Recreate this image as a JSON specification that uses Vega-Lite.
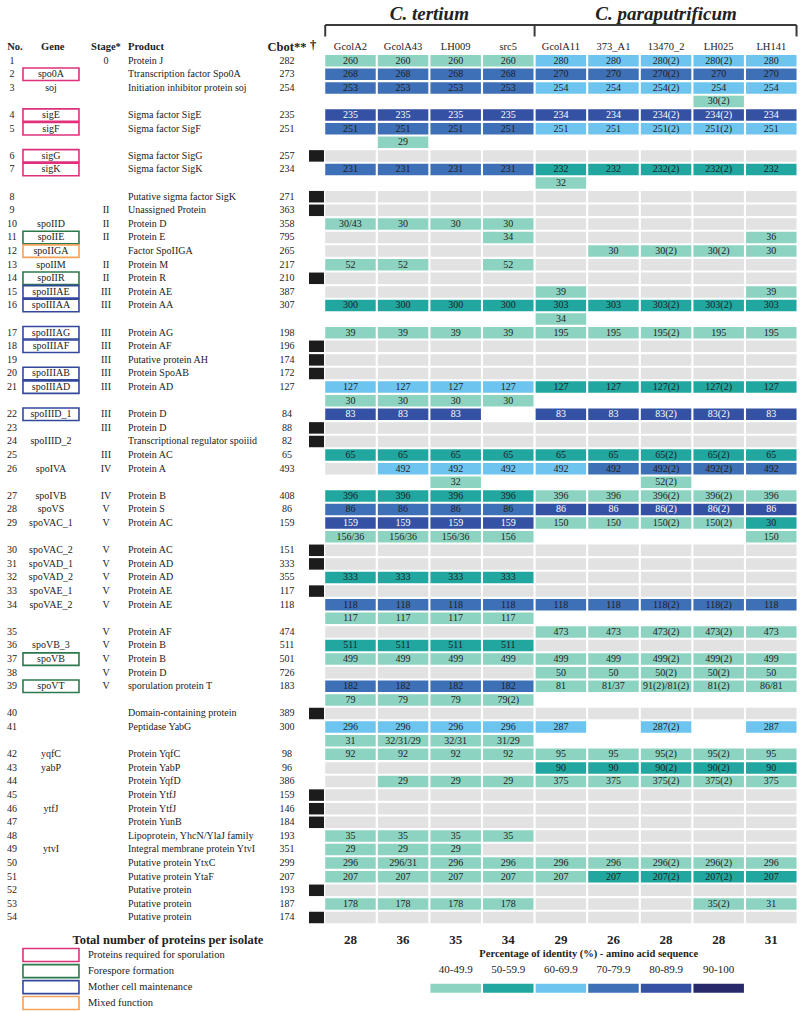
{
"$schema":"https://vega.github.io/schema/vega-lite/v6.json",
"width":800,"height":1011,"autosize":{"type":"none"},"padding":0,"background":"white",
"config":{"view":{"stroke":null},"axis":{"disable":true},"text":{"font":"Liberation Serif","fontSize":10,"color":"#222222","baseline":"middle"}},
"data":{"values":[{}]},
"datasets":{
"cells":[
{"l":1,"i":[1,2,3,4,5,6,7,8,9],"t":["260","260","260","260","280","280","280(2)","280(2)","280"],"c":["40-49.9","40-49.9","40-49.9","40-49.9","60-69.9","60-69.9","60-69.9","60-69.9","60-69.9"]},
{"l":2,"i":[1,2,3,4,5,6,7,8,9],"t":["268","268","268","268","270","270","270(2)","270","270"],"c":["70-79.9","70-79.9","70-79.9","70-79.9","70-79.9","70-79.9","70-79.9","70-79.9","70-79.9"]},
{"l":3,"i":[1,2,3,4,5,6,7,8,9],"t":["253","253","253","253","254","254","254(2)","254","254"],"c":["70-79.9","70-79.9","70-79.9","70-79.9","60-69.9","60-69.9","60-69.9","60-69.9","60-69.9"]},
{"l":4,"i":[1,2,3,4,5,6,7,8,9],"t":["","","","","","","","30(2)",""],"c":["","","","","","","","40-49.9",""]},
{"l":5,"i":[1,2,3,4,5,6,7,8,9],"t":["235","235","235","235","234","234","234(2)","234(2)","234"],"c":["80-89.9","80-89.9","80-89.9","80-89.9","80-89.9","80-89.9","80-89.9","80-89.9","80-89.9"]},
{"l":6,"i":[1,2,3,4,5,6,7,8,9],"t":["251","251","251","251","251","251","251(2)","251(2)","251"],"c":["70-79.9","70-79.9","70-79.9","70-79.9","60-69.9","60-69.9","60-69.9","60-69.9","60-69.9"]},
{"l":7,"i":[1,2,3,4,5,6,7,8,9],"t":["","29"],"c":["","40-49.9"]},
{"l":8,"i":[1,2,3,4,5,6,7,8,9],"t":[],"c":["absent","absent","absent","absent","absent","absent","absent","absent","absent"]},
{"l":9,"i":[1,2,3,4,5,6,7,8,9],"t":["231","231","231","231","232","232","232(2)","232(2)","232"],"c":["70-79.9","70-79.9","70-79.9","70-79.9","50-59.9","50-59.9","50-59.9","50-59.9","50-59.9"]},
{"l":10,"i":[1,2,3,4,5,6,7,8,9],"t":["","","","","32"],"c":["","","","","40-49.9"]},
{"l":11,"i":[1,2,3,4,5,6,7,8,9],"t":[],"c":["absent","absent","absent","absent","absent","absent","absent","absent","absent"]},
{"l":12,"i":[1,2,3,4,5,6,7,8,9],"t":[],"c":["absent","absent","absent","absent","absent","absent","absent","absent","absent"]},
{"l":13,"i":[1,2,3,4,5,6,7,8,9],"t":["30/43","30","30","30"],"c":["40-49.9","40-49.9","40-49.9","40-49.9","absent","absent","absent","absent","absent"]},
{"l":14,"i":[1,2,3,4,5,6,7,8,9],"t":["","","","34","","","","","36"],"c":["absent","absent","absent","40-49.9","absent","absent","absent","absent","40-49.9"]},
{"l":15,"i":[1,2,3,4,5,6,7,8,9],"t":["","","","","","30","30(2)","30(2)","30"],"c":["absent","absent","absent","absent","absent","40-49.9","40-49.9","40-49.9","40-49.9"]},
{"l":16,"i":[1,2,3,4,5,6,7,8,9],"t":["52","52","","52"],"c":["40-49.9","40-49.9","absent","40-49.9","absent","absent","absent","absent","absent"]},
{"l":17,"i":[1,2,3,4,5,6,7,8,9],"t":[],"c":["absent","absent","absent","absent","absent","absent","absent","absent","absent"]},
{"l":18,"i":[1,2,3,4,5,6,7,8,9],"t":["","","","","39","","","","39"],"c":["absent","absent","absent","absent","40-49.9","absent","absent","absent","40-49.9"]},
{"l":19,"i":[1,2,3,4,5,6,7,8,9],"t":["300","300","300","300","303","303","303(2)","303(2)","303"],"c":["50-59.9","50-59.9","50-59.9","50-59.9","50-59.9","50-59.9","50-59.9","50-59.9","50-59.9"]},
{"l":20,"i":[1,2,3,4,5,6,7,8,9],"t":["","","","","34"],"c":["","","","","40-49.9"]},
{"l":21,"i":[1,2,3,4,5,6,7,8,9],"t":["39","39","39","39","195","195","195(2)","195","195"],"c":["40-49.9","40-49.9","40-49.9","40-49.9","40-49.9","40-49.9","40-49.9","40-49.9","40-49.9"]},
{"l":22,"i":[1,2,3,4,5,6,7,8,9],"t":[],"c":["absent","absent","absent","absent","absent","absent","absent","absent","absent"]},
{"l":23,"i":[1,2,3,4,5,6,7,8,9],"t":[],"c":["absent","absent","absent","absent","absent","absent","absent","absent","absent"]},
{"l":24,"i":[1,2,3,4,5,6,7,8,9],"t":[],"c":["absent","absent","absent","absent","absent","absent","absent","absent","absent"]},
{"l":25,"i":[1,2,3,4,5,6,7,8,9],"t":["127","127","127","127","127","127","127(2)","127(2)","127"],"c":["60-69.9","60-69.9","60-69.9","60-69.9","50-59.9","50-59.9","50-59.9","50-59.9","50-59.9"]},
{"l":26,"i":[1,2,3,4,5,6,7,8,9],"t":["30","30","30","30"],"c":["40-49.9","40-49.9","40-49.9","40-49.9"]},
{"l":27,"i":[1,2,3,4,5,6,7,8,9],"t":["83","83","83","","83","83","83(2)","83(2)","83"],"c":["80-89.9","80-89.9","80-89.9","","80-89.9","80-89.9","80-89.9","80-89.9","80-89.9"]},
{"l":28,"i":[1,2,3,4,5,6,7,8,9],"t":[],"c":["absent","absent","absent","absent","absent","absent","absent","absent","absent"]},
{"l":29,"i":[1,2,3,4,5,6,7,8,9],"t":[],"c":["absent","absent","absent","absent","absent","absent","absent","absent","absent"]},
{"l":30,"i":[1,2,3,4,5,6,7,8,9],"t":["65","65","65","65","65","65","65(2)","65(2)","65"],"c":["50-59.9","50-59.9","50-59.9","50-59.9","50-59.9","50-59.9","50-59.9","50-59.9","50-59.9"]},
{"l":31,"i":[1,2,3,4,5,6,7,8,9],"t":["","492","492","492","492","492","492(2)","492(2)","492"],"c":["absent","60-69.9","60-69.9","60-69.9","60-69.9","70-79.9","70-79.9","70-79.9","70-79.9"]},
{"l":32,"i":[1,2,3,4,5,6,7,8,9],"t":["","","32","","","","52(2)","",""],"c":["","","40-49.9","","","","40-49.9","",""]},
{"l":33,"i":[1,2,3,4,5,6,7,8,9],"t":["396","396","396","396","396","396","396(2)","396(2)","396"],"c":["50-59.9","50-59.9","50-59.9","50-59.9","40-49.9","40-49.9","40-49.9","40-49.9","40-49.9"]},
{"l":34,"i":[1,2,3,4,5,6,7,8,9],"t":["86","86","86","86","86","86","86(2)","86(2)","86"],"c":["70-79.9","70-79.9","70-79.9","70-79.9","80-89.9","80-89.9","80-89.9","80-89.9","80-89.9"]},
{"l":35,"i":[1,2,3,4,5,6,7,8,9],"t":["159","159","159","159","150","150","150(2)","150(2)","30"],"c":["80-89.9","80-89.9","80-89.9","80-89.9","40-49.9","40-49.9","40-49.9","40-49.9","50-59.9"]},
{"l":36,"i":[1,2,3,4,5,6,7,8,9],"t":["156/36","156/36","156/36","156","","","","","150"],"c":["40-49.9","40-49.9","40-49.9","40-49.9","","","","","40-49.9"]},
{"l":37,"i":[1,2,3,4,5,6,7,8,9],"t":[],"c":["absent","absent","absent","absent","absent","absent","absent","absent","absent"]},
{"l":38,"i":[1,2,3,4,5,6,7,8,9],"t":[],"c":["absent","absent","absent","absent","absent","absent","absent","absent","absent"]},
{"l":39,"i":[1,2,3,4,5,6,7,8,9],"t":["333","333","333","333"],"c":["50-59.9","50-59.9","50-59.9","50-59.9","absent","absent","absent","absent","absent"]},
{"l":40,"i":[1,2,3,4,5,6,7,8,9],"t":[],"c":["absent","absent","absent","absent","absent","absent","absent","absent","absent"]},
{"l":41,"i":[1,2,3,4,5,6,7,8,9],"t":["118","118","118","118","118","118","118(2)","118(2)","118"],"c":["70-79.9","70-79.9","70-79.9","70-79.9","70-79.9","70-79.9","70-79.9","70-79.9","70-79.9"]},
{"l":42,"i":[1,2,3,4,5,6,7,8,9],"t":["117","117","117","117"],"c":["40-49.9","40-49.9","40-49.9","40-49.9"]},
{"l":43,"i":[1,2,3,4,5,6,7,8,9],"t":["","","","","473","473","473(2)","473(2)","473"],"c":["absent","absent","absent","absent","40-49.9","40-49.9","40-49.9","40-49.9","40-49.9"]},
{"l":44,"i":[1,2,3,4,5,6,7,8,9],"t":["511","511","511","511"],"c":["50-59.9","50-59.9","50-59.9","50-59.9","absent","absent","absent","absent","absent"]},
{"l":45,"i":[1,2,3,4,5,6,7,8,9],"t":["499","499","499","499","499","499","499(2)","499(2)","499"],"c":["40-49.9","40-49.9","40-49.9","40-49.9","40-49.9","40-49.9","40-49.9","40-49.9","40-49.9"]},
{"l":46,"i":[1,2,3,4,5,6,7,8,9],"t":["","","","","50","50","50(2)","50(2)","50"],"c":["absent","absent","absent","absent","40-49.9","40-49.9","40-49.9","40-49.9","40-49.9"]},
{"l":47,"i":[1,2,3,4,5,6,7,8,9],"t":["182","182","182","182","81","81/37","91(2)/81(2)","81(2)","86/81"],"c":["70-79.9","70-79.9","70-79.9","70-79.9","40-49.9","40-49.9","40-49.9","40-49.9","40-49.9"]},
{"l":48,"i":[1,2,3,4,5,6,7,8,9],"t":["79","79","79","79(2)"],"c":["40-49.9","40-49.9","40-49.9","40-49.9"]},
{"l":49,"i":[1,2,3,4,5,6,7,8,9],"t":[],"c":["absent","absent","absent","absent","absent","absent","absent","absent","absent"]},
{"l":50,"i":[1,2,3,4,5,6,7,8,9],"t":["296","296","296","296","287","","287(2)","","287"],"c":["60-69.9","60-69.9","60-69.9","60-69.9","60-69.9","","60-69.9","","60-69.9"]},
{"l":51,"i":[1,2,3,4,5,6,7,8,9],"t":["31","32/31/29","32/31","31/29"],"c":["40-49.9","40-49.9","40-49.9","40-49.9"]},
{"l":52,"i":[1,2,3,4,5,6,7,8,9],"t":["92","92","92","92","95","95","95(2)","95(2)","95"],"c":["40-49.9","40-49.9","40-49.9","40-49.9","40-49.9","40-49.9","40-49.9","40-49.9","40-49.9"]},
{"l":53,"i":[1,2,3,4,5,6,7,8,9],"t":["","","","","90","90","90(2)","90(2)","90"],"c":["absent","absent","absent","absent","50-59.9","50-59.9","50-59.9","50-59.9","50-59.9"]},
{"l":54,"i":[1,2,3,4,5,6,7,8,9],"t":["","29","29","29","375","375","375(2)","375(2)","375"],"c":["absent","40-49.9","40-49.9","40-49.9","40-49.9","40-49.9","40-49.9","40-49.9","40-49.9"]},
{"l":55,"i":[1,2,3,4,5,6,7,8,9],"t":[],"c":["absent","absent","absent","absent","absent","absent","absent","absent","absent"]},
{"l":56,"i":[1,2,3,4,5,6,7,8,9],"t":[],"c":["absent","absent","absent","absent","absent","absent","absent","absent","absent"]},
{"l":57,"i":[1,2,3,4,5,6,7,8,9],"t":[],"c":["absent","absent","absent","absent","absent","absent","absent","absent","absent"]},
{"l":58,"i":[1,2,3,4,5,6,7,8,9],"t":["35","35","35","35"],"c":["40-49.9","40-49.9","40-49.9","40-49.9","absent","absent","absent","absent","absent"]},
{"l":59,"i":[1,2,3,4,5,6,7,8,9],"t":["29","29","29"],"c":["40-49.9","40-49.9","40-49.9","absent","absent","absent","absent","absent","absent"]},
{"l":60,"i":[1,2,3,4,5,6,7,8,9],"t":["296","296/31","296","296","296","296","296(2)","296(2)","296"],"c":["40-49.9","40-49.9","40-49.9","40-49.9","40-49.9","40-49.9","40-49.9","40-49.9","40-49.9"]},
{"l":61,"i":[1,2,3,4,5,6,7,8,9],"t":["207","207","207","207","207","207","207(2)","207(2)","207"],"c":["40-49.9","40-49.9","40-49.9","40-49.9","40-49.9","50-59.9","50-59.9","50-59.9","50-59.9"]},
{"l":62,"i":[1,2,3,4,5,6,7,8,9],"t":[],"c":["absent","absent","absent","absent","absent","absent","absent","absent","absent"]},
{"l":63,"i":[1,2,3,4,5,6,7,8,9],"t":["178","178","178","178","","","","35(2)","31"],"c":["40-49.9","40-49.9","40-49.9","40-49.9","absent","absent","absent","40-49.9","40-49.9"]},
{"l":64,"i":[1,2,3,4,5,6,7,8,9],"t":[],"c":["absent","absent","absent","absent","absent","absent","absent","absent","absent"]}
],
"genes":[
{"l":1,"no":1,"stage":"0","product":"Protein J","cbot":282},
{"l":2,"no":2,"gene":"spo0A","product":"Ttranscription factor Spo0A","cbot":273,"box":"req"},
{"l":3,"no":3,"gene":"soj","product":"Initiation inhibitor protein soj","cbot":254},
{"l":5,"no":4,"gene":"sigE","product":"Sigma factor SigE","cbot":235,"box":"req"},
{"l":6,"no":5,"gene":"sigF","product":"Sigma factor SigF","cbot":251,"box":"req"},
{"l":8,"no":6,"gene":"sigG","product":"Sigma factor SigG","cbot":257,"box":"req","dag":true},
{"l":9,"no":7,"gene":"sigK","product":"Sigma factor SigK","cbot":234,"box":"req"},
{"l":11,"no":8,"product":"Putative sigma factor SigK","cbot":271,"dag":true},
{"l":12,"no":9,"stage":"II","product":"Unassigned Protein","cbot":363,"dag":true},
{"l":13,"no":10,"gene":"spoIID","stage":"II","product":"Protein D","cbot":358},
{"l":14,"no":11,"gene":"spoIIE","stage":"II","product":"Protein E","cbot":795,"box":"fore"},
{"l":15,"no":12,"gene":"spoIIGA","product":"Factor SpoIIGA","cbot":265,"box":"mixed"},
{"l":16,"no":13,"gene":"spoIIM","stage":"II","product":"Protein M","cbot":217},
{"l":17,"no":14,"gene":"spoIIR","stage":"II","product":"Protein R","cbot":210,"box":"fore","dag":true},
{"l":18,"no":15,"gene":"spoIIIAE","stage":"III","product":"Protein AE","cbot":387,"box":"mother"},
{"l":19,"no":16,"gene":"spoIIIAA","stage":"III","product":"Protein AA","cbot":307,"box":"mother"},
{"l":21,"no":17,"gene":"spoIIIAG","stage":"III","product":"Protein AG","cbot":198,"box":"mother"},
{"l":22,"no":18,"gene":"spoIIIAF","stage":"III","product":"Protein AF","cbot":196,"box":"mother","dag":true},
{"l":23,"no":19,"stage":"III","product":"Putative protein AH","cbot":174,"dag":true},
{"l":24,"no":20,"gene":"spoIIIAB","stage":"III","product":"Protein SpoAB","cbot":172,"box":"mother","dag":true},
{"l":25,"no":21,"gene":"spoIIIAD","stage":"III","product":"Protein AD","cbot":127,"box":"mother"},
{"l":27,"no":22,"gene":"spoIIID_1","stage":"III","product":"Protein D","cbot":84,"box":"mother"},
{"l":28,"no":23,"stage":"III","product":"Protein D","cbot":88,"dag":true},
{"l":29,"no":24,"gene":"spoIIID_2","product":"Transcriptional regulator spoiiid","cbot":82,"dag":true},
{"l":30,"no":25,"stage":"III","product":"Protein AC","cbot":65},
{"l":31,"no":26,"gene":"spoIVA","stage":"IV","product":"Protein A","cbot":493},
{"l":33,"no":27,"gene":"spoIVB","stage":"IV","product":"Protein B","cbot":408},
{"l":34,"no":28,"gene":"spoVS","stage":"V","product":"Protein S","cbot":86},
{"l":35,"no":29,"gene":"spoVAC_1","stage":"V","product":"Protein AC","cbot":159},
{"l":37,"no":30,"gene":"spoVAC_2","stage":"V","product":"Protein AC","cbot":151,"dag":true},
{"l":38,"no":31,"gene":"spoVAD_1","stage":"V","product":"Protein AD","cbot":333,"dag":true},
{"l":39,"no":32,"gene":"spoVAD_2","stage":"V","product":"Protein AD","cbot":355},
{"l":40,"no":33,"gene":"spoVAE_1","stage":"V","product":"Protein AE","cbot":117,"dag":true},
{"l":41,"no":34,"gene":"spoVAE_2","stage":"V","product":"Protein AE","cbot":118},
{"l":43,"no":35,"stage":"V","product":"Protein AF","cbot":474},
{"l":44,"no":36,"gene":"spoVB_3","stage":"V","product":"Protein B","cbot":511},
{"l":45,"no":37,"gene":"spoVB","stage":"V","product":"Protein B","cbot":501,"box":"fore"},
{"l":46,"no":38,"stage":"V","product":"Protein D","cbot":726},
{"l":47,"no":39,"gene":"spoVT","stage":"V","product":"sporulation protein T","cbot":183,"box":"fore"},
{"l":49,"no":40,"product":"Domain-containing protein","cbot":389,"dag":true},
{"l":50,"no":41,"product":"Peptidase YabG","cbot":300},
{"l":52,"no":42,"gene":"yqfC","product":"Protein YqfC","cbot":98},
{"l":53,"no":43,"gene":"yabP","product":"Protein YabP","cbot":96},
{"l":54,"no":44,"product":"Protein YqfD","cbot":386},
{"l":55,"no":45,"product":"Protein YtfJ","cbot":159,"dag":true},
{"l":56,"no":46,"gene":"ytfJ","product":"Protein YtfJ","cbot":146,"dag":true},
{"l":57,"no":47,"product":"Protein YunB","cbot":184,"dag":true},
{"l":58,"no":48,"product":"Lipoprotein, YhcN/YlaJ family","cbot":193},
{"l":59,"no":49,"gene":"ytvI","product":"Integral membrane protein YtvI","cbot":351},
{"l":60,"no":50,"product":"Putative protein YtxC","cbot":299},
{"l":61,"no":51,"product":"Putative protein YtaF","cbot":207},
{"l":62,"no":52,"product":"Putative protein","cbot":193,"dag":true},
{"l":63,"no":53,"product":"Putative protein","cbot":187},
{"l":64,"no":54,"product":"Putative protein","cbot":174,"dag":true}
],
"isolates":[
{"i":1,"name":"GcolA2","total":28},{"i":2,"name":"GcolA43","total":36},{"i":3,"name":"LH009","total":35},{"i":4,"name":"src5","total":34},{"i":5,"name":"GcolA11","total":29},{"i":6,"name":"373_A1","total":26},{"i":7,"name":"13470_2","total":28},{"i":8,"name":"LH025","total":28},{"i":9,"name":"LH141","total":31}
],
"ramp":[
{"c":"40-49.9","k":3},{"c":"50-59.9","k":4},{"c":"60-69.9","k":5},{"c":"70-79.9","k":6},{"c":"80-89.9","k":7},{"c":"90-100","k":8}
]
},
"layer":[
{"data":{"name":"cells"},"transform":[{"flatten":["i","t","c"]},{"filter":"datum.c"}],
 "mark":{"type":"tick","orient":"horizontal","size":50.5,"thickness":11.5,"opacity":1},
 "encoding":{
  "x":{"field":"i","type":"quantitative","scale":{"domain":[-5.663,9.546],"nice":false,"zero":false},"axis":null},
  "y":{"field":"l","type":"quantitative","scale":{"domain":[-3.463,70.875],"nice":false,"zero":false,"reverse":true},"axis":null},
  "color":{"field":"c","type":"nominal","legend":null,"scale":{"domain":["40-49.9","50-59.9","60-69.9","70-79.9","80-89.9","90-100","absent"],"range":["#8dd3c1","#21a6a0","#6dc5ef","#3e70b7","#3451a3","#27296b","#e2e2e2"]}}}},
{"data":{"name":"cells"},"transform":[{"flatten":["i","t","c"]},{"filter":"datum.t"}],
 "mark":{"type":"text","fontSize":10},
 "encoding":{
  "x":{"field":"i","type":"quantitative"},
  "y":{"field":"l","type":"quantitative"},
  "text":{"field":"t"},
  "color":{"condition":{"test":"datum.c === '80-89.9'","value":"#ffffff"},"value":"#1e1e1e"}}},
{"data":{"name":"genes"},"transform":[{"filter":"datum.box"}],
 "mark":{"type":"tick","orient":"horizontal","size":56,"thickness":12.5,"filled":false,"fill":"transparent","strokeWidth":1.6,"opacity":1},
 "encoding":{"x":{"datum":-4.694,"type":"quantitative"},"y":{"field":"l","type":"quantitative"},
  "stroke":{"field":"box","type":"nominal","legend":null,"scale":{"domain":["req","fore","mother","mixed"],"range":["#e0307c","#2b7a4b","#33489b","#f2a25a"]}}}},
{"data":{"name":"genes"},"transform":[{"filter":"datum.dag"}],
 "mark":{"type":"tick","orient":"horizontal","size":15,"thickness":11.5,"opacity":1,"color":"#1c1c1c"},
 "encoding":{"x":{"datum":0.354,"type":"quantitative"},"y":{"field":"l","type":"quantitative"}}},
{"data":{"name":"genes"},"mark":{"type":"text","align":"center"},
 "encoding":{"x":{"datum":-5.435,"type":"quantitative"},"y":{"field":"l","type":"quantitative"},"text":{"field":"no"}}},
{"data":{"name":"genes"},"transform":[{"filter":"datum.gene"}],"mark":{"type":"text","align":"center"},
 "encoding":{"x":{"datum":-4.694,"type":"quantitative"},"y":{"field":"l","type":"quantitative"},"text":{"field":"gene"}}},
{"data":{"name":"genes"},"transform":[{"filter":"datum.stage"}],"mark":{"type":"text","align":"center"},
 "encoding":{"x":{"datum":-3.648,"type":"quantitative"},"y":{"field":"l","type":"quantitative"},"text":{"field":"stage"}}},
{"data":{"name":"genes"},"mark":{"type":"text","align":"left"},
 "encoding":{"x":{"datum":-3.23,"type":"quantitative"},"y":{"field":"l","type":"quantitative"},"text":{"field":"product"}}},
{"data":{"name":"genes"},"mark":{"type":"text","align":"center"},
 "encoding":{"x":{"datum":-0.207,"type":"quantitative"},"y":{"field":"l","type":"quantitative"},"text":{"field":"cbot"}}},
{"data":{"name":"isolates"},"mark":{"type":"text","fontSize":10.5},
 "encoding":{"x":{"field":"i","type":"quantitative"},"y":{"datum":0,"type":"quantitative"},"text":{"field":"name"}}},
{"data":{"name":"isolates"},"mark":{"type":"text","fontSize":13,"fontWeight":"bold"},
 "encoding":{"x":{"field":"i","type":"quantitative"},"y":{"datum":65.65,"type":"quantitative"},"text":{"field":"total"}}},
{"mark":{"type":"text","text":"No.","fontWeight":"bold","fontSize":10.5},"encoding":{"x":{"datum":-5.38,"type":"quantitative"},"y":{"datum":0,"type":"quantitative"}}},
{"mark":{"type":"text","text":"Gene","fontWeight":"bold","fontSize":10.5},"encoding":{"x":{"datum":-4.66,"type":"quantitative"},"y":{"datum":0,"type":"quantitative"}}},
{"mark":{"type":"text","text":"Stage*","fontWeight":"bold","fontSize":10.5},"encoding":{"x":{"datum":-3.648,"type":"quantitative"},"y":{"datum":0,"type":"quantitative"}}},
{"mark":{"type":"text","text":"Product","fontWeight":"bold","fontSize":10.5,"align":"left"},"encoding":{"x":{"datum":-3.23,"type":"quantitative"},"y":{"datum":0,"type":"quantitative"}}},
{"mark":{"type":"text","text":"Cbot**","fontWeight":"bold","fontSize":12.5},"encoding":{"x":{"datum":-0.207,"type":"quantitative"},"y":{"datum":0,"type":"quantitative"}}},
{"mark":{"type":"text","text":"†","fontWeight":"bold","fontSize":12.5},"encoding":{"x":{"datum":0.29,"type":"quantitative"},"y":{"datum":-0.15,"type":"quantitative"}}},
{"mark":{"type":"text","text":"C. tertium","fontWeight":"bold","fontStyle":"italic","fontSize":19},"encoding":{"x":{"datum":2.5,"type":"quantitative"},"y":{"datum":-2.45,"type":"quantitative"}}},
{"mark":{"type":"text","text":"C. paraputrificum","fontWeight":"bold","fontStyle":"italic","fontSize":19},"encoding":{"x":{"datum":7,"type":"quantitative"},"y":{"datum":-2.45,"type":"quantitative"}}},
{"mark":{"type":"rule","color":"#3a3a3a","strokeWidth":2},"encoding":{"x":{"datum":0.52,"type":"quantitative"},"x2":{"datum":9.48},"y":{"datum":-1.625,"type":"quantitative"}}},
{"mark":{"type":"rule","color":"#3a3a3a","strokeWidth":2},"encoding":{"x":{"datum":0.52,"type":"quantitative"},"y":{"datum":-1.625,"type":"quantitative"},"y2":{"datum":-0.78}}},
{"mark":{"type":"rule","color":"#3a3a3a","strokeWidth":2},"encoding":{"x":{"datum":4.5,"type":"quantitative"},"y":{"datum":-1.625,"type":"quantitative"},"y2":{"datum":-0.78}}},
{"mark":{"type":"rule","color":"#3a3a3a","strokeWidth":2},"encoding":{"x":{"datum":9.48,"type":"quantitative"},"y":{"datum":-1.625,"type":"quantitative"},"y2":{"datum":-0.78}}},
{"mark":{"type":"text","text":"Total number of proteins per isolate","fontWeight":"bold","fontSize":12.5},"encoding":{"x":{"datum":-2.47,"type":"quantitative"},"y":{"datum":65.65,"type":"quantitative"}}},
{"mark":{"type":"tick","orient":"horizontal","size":56,"thickness":13,"filled":false,"fill":"transparent","stroke":"#e0307c","strokeWidth":1.6,"opacity":1},"encoding":{"x":{"datum":-4.694,"type":"quantitative"},"y":{"datum":66.76,"type":"quantitative"}}},
{"mark":{"type":"tick","orient":"horizontal","size":56,"thickness":13,"filled":false,"fill":"transparent","stroke":"#2b7a4b","strokeWidth":1.6,"opacity":1},"encoding":{"x":{"datum":-4.694,"type":"quantitative"},"y":{"datum":67.94,"type":"quantitative"}}},
{"mark":{"type":"tick","orient":"horizontal","size":56,"thickness":13,"filled":false,"fill":"transparent","stroke":"#33489b","strokeWidth":1.6,"opacity":1},"encoding":{"x":{"datum":-4.694,"type":"quantitative"},"y":{"datum":69.12,"type":"quantitative"}}},
{"mark":{"type":"tick","orient":"horizontal","size":56,"thickness":13,"filled":false,"fill":"transparent","stroke":"#f2a25a","strokeWidth":1.6,"opacity":1},"encoding":{"x":{"datum":-4.694,"type":"quantitative"},"y":{"datum":70.29,"type":"quantitative"}}},
{"mark":{"type":"text","text":"Proteins required for sporulation","align":"left","fontSize":10.5},"encoding":{"x":{"datum":-3.99,"type":"quantitative"},"y":{"datum":66.76,"type":"quantitative"}}},
{"mark":{"type":"text","text":"Forespore formation","align":"left","fontSize":10.5},"encoding":{"x":{"datum":-3.99,"type":"quantitative"},"y":{"datum":67.94,"type":"quantitative"}}},
{"mark":{"type":"text","text":"Mother cell maintenance","align":"left","fontSize":10.5},"encoding":{"x":{"datum":-3.99,"type":"quantitative"},"y":{"datum":69.12,"type":"quantitative"}}},
{"mark":{"type":"text","text":"Mixed function","align":"left","fontSize":10.5},"encoding":{"x":{"datum":-3.99,"type":"quantitative"},"y":{"datum":70.29,"type":"quantitative"}}},
{"mark":{"type":"text","text":"Percentage of identity (%) - amino acid sequence","fontWeight":"bold","fontSize":10.5},"encoding":{"x":{"datum":5.53,"type":"quantitative"},"y":{"datum":66.69,"type":"quantitative"}}},
{"data":{"name":"ramp"},"mark":{"type":"text","fontSize":11},
 "encoding":{"x":{"field":"k","type":"quantitative"},"y":{"datum":67.87,"type":"quantitative"},"text":{"field":"c"}}},
{"data":{"name":"ramp"},"mark":{"type":"tick","orient":"horizontal","size":50.5,"thickness":9,"opacity":1},
 "encoding":{"x":{"field":"k","type":"quantitative"},"y":{"datum":69.2,"type":"quantitative"},"color":{"field":"c","type":"nominal","legend":null}}}
]
}
